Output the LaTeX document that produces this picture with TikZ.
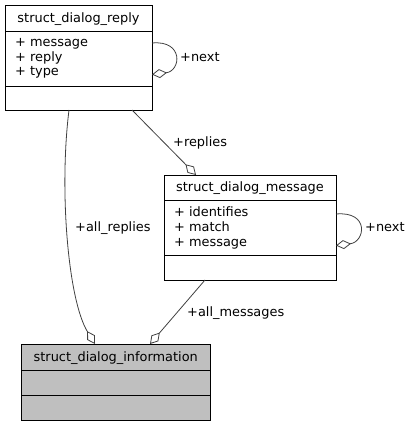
\documentclass[tikz,border=0pt]{standalone}
\usepackage{fontspec}
\setmainfont{DejaVu Sans}
\usetikzlibrary{arrows.meta}
\definecolor{edgec}{RGB}{64,64,64}
\definecolor{infofill}{RGB}{191,191,191}
\begin{document}
\begin{tikzpicture}[x=1pt,y=-1pt,
  box/.style={draw=black, line width=0.9pt, inner sep=0pt, outer sep=0pt, anchor=north west},
  divider/.style={draw=black, line width=0.9pt},
  txt/.style={inner sep=0pt, font=\fontsize{12.9}{15}\selectfont},
  conn/.style={draw=edgec, line width=0.8pt, -{Diamond[open, length=15pt, width=9pt]}},
  lbl/.style={txt, anchor=base west}]
\useasboundingbox (0,0) rectangle (411,427);

% struct_dialog_reply
\node[box, minimum width=147pt, minimum height=105pt] (reply) at (5,5) {};
\draw[divider] (5,31) -- (152,31);
\draw[divider] (5,86) -- (152,86);
\node[txt, anchor=base] (replyT) at (78.5,22.5) {struct\_dialog\_reply};
\node[lbl] (replyA1) at (15,47) {+ message};
\node[lbl] (replyA2) at (15,61.5) {+ reply};
\node[lbl] (replyA3) at (15,76) {+ type};

% struct_dialog_message
\node[box, minimum width=172pt, minimum height=105pt] (msg) at (164,175) {};
\draw[divider] (164,200.5) -- (336,200.5);
\draw[divider] (164,255.5) -- (336,255.5);
\node[txt, anchor=base] (msgT) at (250,192) {struct\_dialog\_message};
\node[lbl] (msgA1) at (174,216) {+ identifies};
\node[lbl] (msgA2) at (174,231) {+ match};
\node[lbl] (msgA3) at (174,246) {+ message};

% struct_dialog_information
\node[box, fill=infofill, minimum width=189.5pt, minimum height=76pt] (info) at (21,344) {};
\draw[divider] (21,370) -- (210.5,370);
\draw[divider] (21,395) -- (210.5,395);
\node[txt, anchor=base] (infoT) at (115.75,361.5) {struct\_dialog\_information};

% connectors
\coordinate (rl1) at ([yshift=-38pt]reply.north east);
\coordinate (rl2) at ([yshift=-69.5pt]reply.north east);
\draw[conn] (rl1) .. controls (184,40) and (181,71) .. (rl2);
\node[lbl] (nextR) at (180,61.5) {+next};

\draw[conn] ([xshift=127pt]reply.south west) -- ([xshift=32pt]msg.north west);
\node[lbl] (repliesL) at (173,146.5) {+replies};

\coordinate (ml1) at ([yshift=-39pt]msg.north east);
\coordinate (ml2) at ([yshift=-70.5pt]msg.north east);
\draw[conn] (ml1) .. controls (370,211) and (365,242) .. (ml2);
\node[lbl] (nextM) at (365,231) {+next};

\draw[conn] ([xshift=64pt]reply.south west) .. controls (59,190) and (68,300) .. ([xshift=74pt]info.north west);
\node[lbl] (allR) at (75,231) {+all\_replies};

\draw[conn] ([xshift=41pt]msg.south west) -- ([xshift=129pt]info.north west);
\node[lbl] (allM) at (187,316) {+all\_messages};
\end{tikzpicture}
\end{document}
